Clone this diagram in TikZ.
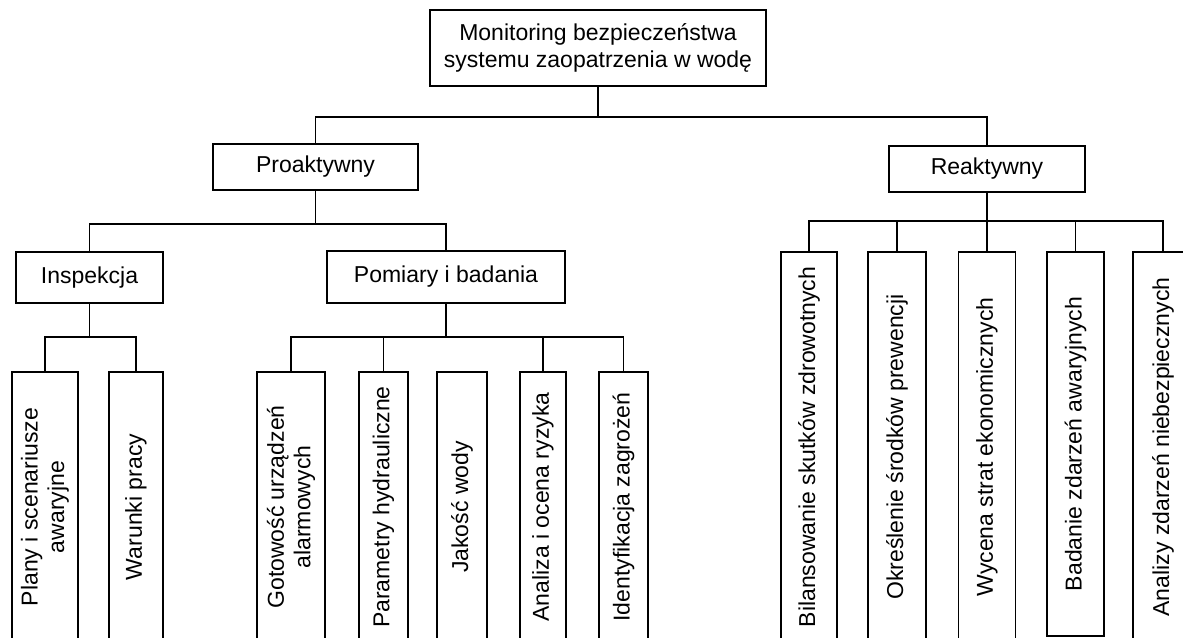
\documentclass[tikz,border=0pt]{standalone}
\usepackage{fontspec}
\setmainfont{Liberation Sans}
\usetikzlibrary{calc}
\begin{document}
\begin{tikzpicture}[x={(1pt,0)},y={(0,-1pt)},
  box/.style={draw=black,line width=1.8pt,fill=white,inner sep=0pt,align=center,
    font=\fontsize{23}{26.5}\selectfont},
  vbox/.style={box,rotate=90},
  conn/.style={draw=black,line width=1.8pt}]
\useasboundingbox (0,0) rectangle (1183,637);
\clip (0,0) rectangle (1183,637);
\fill[white] (0,0) rectangle (1183,637);
% level 0
\node[box,minimum width=336pt,minimum height=76pt] (root) at (598,48)
  {Monitoring bezpieczeństwa\\systemu zaopatrzenia w wodę};
% level 1
\node[box,minimum width=205pt,minimum height=46pt] (pro) at (315.5,167) {Proaktywny};
\node[box,minimum width=196pt,minimum height=46pt] (rea) at (987,169) {Reaktywny};
% level 2
\node[box,minimum width=147pt,minimum height=51pt] (insp) at (89.5,277.5) {Inspekcja};
\node[box,minimum width=238pt,minimum height=52pt] (pom) at (446,277) {Pomiary i badania};
% proactive leaves
\node[vbox,minimum width=270pt,minimum height=66pt] (plany) at (45,507) {Plany i scenariusze\\awaryjne};
\node[vbox,minimum width=270pt,minimum height=54pt] (war) at (136,507) {Warunki pracy};
\node[vbox,minimum width=270pt,minimum height=68pt] (got) at (291,507) {Gotowość urządzeń\\alarmowych};
\node[vbox,minimum width=270pt,minimum height=49pt] (par) at (383.5,507) {Parametry hydrauliczne};
\node[vbox,minimum width=270pt,minimum height=50pt] (jak) at (462,507) {Jakość wody};
\node[vbox,minimum width=270pt,minimum height=46pt] (ana) at (543,507) {Analiza i ocena ryzyka};
\node[vbox,minimum width=270pt,minimum height=49pt] (ide) at (623.5,507) {Identyfikacja zagrożeń};
% reactive leaves
\node[vbox,minimum width=390pt,minimum height=56pt] (bil) at (809,447) {Bilansowanie skutków zdrowotnych};
\node[vbox,minimum width=390pt,minimum height=58pt] (okr) at (897,447) {Określenie środków prewencji};
\node[vbox,minimum width=390pt,minimum height=57pt] (wyc) at (987,447) {Wycena strat ekonomicznych};
\node[vbox,minimum width=384pt,minimum height=57pt] (bad) at (1075.5,444) {Badanie zdarzeń awaryjnych};
\node[vbox,minimum width=390pt,minimum height=60pt] (anz) at (1163,447) {Analizy zdarzeń niebezpiecznych};
% junction levels
\coordinate (j0) at (598,117);
\coordinate (j1) at (315.5,224);
\coordinate (j2) at (89.5,337);
\coordinate (j3) at (446,337);
\coordinate (j4) at (987,221);
% connectors
\draw[conn] (root.south) -- (j0);
\draw[conn] (pro.north) -- (pro.north |- j0) -- (rea.north |- j0) -- (rea.north);
\draw[conn] (pro.south) -- (j1);
\draw[conn] (insp.north) -- (insp.north |- j1) -- (pom.north |- j1) -- (pom.north);
\draw[conn] (insp.south) -- (j2);
\draw[conn] (plany.east) -- (plany.east |- j2) -- (war.east |- j2) -- (war.east);
\draw[conn] (pom.south) -- (j3);
\draw[conn] (got.east) -- (got.east |- j3) -- (ide.east |- j3) -- (ide.east);
\draw[conn] (par.east) -- (par.east |- j3);
\draw[conn] (ana.east) -- (ana.east |- j3);
\draw[conn] (rea.south) -- (j4);
\draw[conn] (bil.east) -- (bil.east |- j4) -- (anz.east |- j4) -- (anz.east);
\draw[conn] (okr.east) -- (okr.east |- j4);
\draw[conn] (wyc.east) -- (wyc.east |- j4);
\draw[conn] (bad.east) -- (bad.east |- j4);
\end{tikzpicture}
\end{document}
